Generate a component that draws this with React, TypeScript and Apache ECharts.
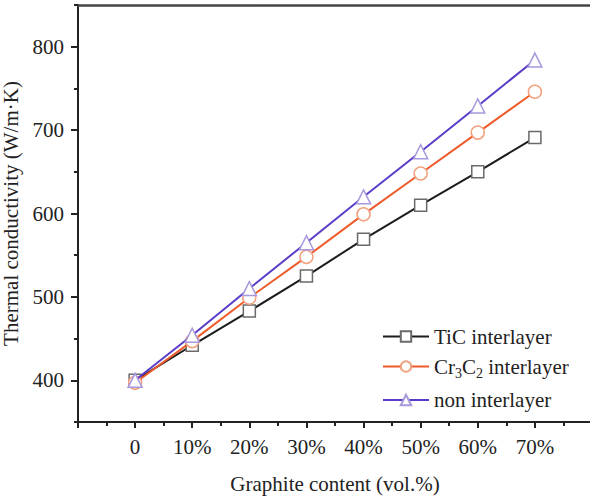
import React, { useEffect, useRef } from "react";
import * as echarts from "echarts";

const contents = [0, 10, 20, 30, 40, 50, 60, 70];
const ticValues = [400, 442, 483, 525, 569, 610, 650, 691];
const crValues = [397, 447, 499, 548, 599, 648, 697, 746];
const nonValues = [400, 454, 510, 565, 620, 674, 729, 784];
const seriesNames = ["TiC interlayer", "Cr3C2 interlayer", "non interlayer"];
const yMajor = [400, 500, 600, 700, 800];
const yMinor = [350, 450, 550, 650, 750, 850];
const xMajor = [-10, 0, 10, 20, 30, 40, 50, 60, 70, 80];
const xMinor = [-5, 5, 15, 25, 35, 45, 55, 65, 75];

const FONT = "'Liberation Serif', 'DejaVu Serif', serif";
const TXT = "#222";
const FS = 21;

export default function App() {
  const ref = useRef<HTMLDivElement>(null);
  useEffect(() => {
    const chart = echarts.init(ref.current!, null, { renderer: "svg" });
    const mk = (vals: number[]) => contents.map((c, i) => [c, vals[i]]);
    const axisLine = { show: true, onZero: false, lineStyle: { color: "#222", width: 2 } };
    chart.setOption({
      animation: false,
      textStyle: { fontFamily: FONT },
      grid: { left: 78, top: 5, right: -2, bottom: 79, containLabel: false, outerBoundsMode: "none" },
      legend: {
        orient: "vertical",
        left: 377,
        top: 321,
        itemWidth: 46,
        itemHeight: 13,
        itemGap: 9,
        data: seriesNames,
        textStyle: {
          fontFamily: FONT,
          fontSize: FS,
          color: TXT,
          rich: {
            n: { fontFamily: FONT, fontSize: FS, color: TXT },
            sub: { fontFamily: FONT, fontSize: 14, color: TXT, padding: [14, 0, 0, 0] },
          },
        },
        formatter: (name: string) =>
          name === "Cr3C2 interlayer" ? "{n|Cr}{sub|3}{n|C}{sub|2}{n| interlayer}" : name,
      },
      xAxis: [
        {
          type: "value",
          min: -10,
          max: 80,
          interval: 5,
          position: "bottom",
          name: "Graphite content (vol.%)",
          nameLocation: "middle",
          nameGap: 51,
          nameTextStyle: { fontFamily: FONT, fontSize: FS, color: TXT },
          axisLine,
          splitLine: { show: false },
          axisTick: { show: true, customValues: xMajor, length: 6, lineStyle: { color: "#222", width: 2 } },
          axisLabel: {
            customValues: contents,
            formatter: (v: number) => (v === 0 ? "0" : v + "%"),
            fontFamily: FONT,
            fontSize: FS,
            color: TXT,
            margin: 14,
          },
        },
        {
          type: "value",
          min: -10,
          max: 80,
          interval: 5,
          position: "bottom",
          axisLine: { show: false, onZero: false },
          splitLine: { show: false },
          axisTick: { show: true, customValues: xMinor, length: 4, lineStyle: { color: "#222", width: 2 } },
          axisLabel: { show: false },
        },
        {
          type: "value",
          min: -10,
          max: 80,
          position: "top",
          axisLine: { show: true, onZero: false, lineStyle: { color: "#444", width: 2.5 } },
          splitLine: { show: false },
          axisTick: { show: false },
          axisLabel: { show: false },
        },
      ],
      yAxis: [
        {
          type: "value",
          min: 350,
          max: 850,
          interval: 50,
          position: "left",
          name: "Thermal conductivity (W/m·K)",
          nameLocation: "middle",
          nameGap: 47,
          nameTextStyle: { fontFamily: FONT, fontSize: FS, color: TXT },
          axisLine,
          splitLine: { show: false },
          axisTick: { show: true, customValues: yMajor, length: 7, lineStyle: { color: "#222", width: 2 } },
          axisLabel: { customValues: yMajor, fontFamily: FONT, fontSize: FS, color: TXT, margin: 14 },
        },
        {
          type: "value",
          min: 350,
          max: 850,
          interval: 50,
          position: "left",
          axisLine: { show: false, onZero: false },
          splitLine: { show: false },
          axisTick: { show: true, customValues: yMinor, length: 4, lineStyle: { color: "#222", width: 2 } },
          axisLabel: { show: false },
        },
      ],
      series: [
        {
          name: seriesNames[0],
          type: "line",
          data: mk(ticValues),
          symbol: "rect",
          symbolSize: 12,
          lineStyle: { color: "#1c1c1c", width: 2 },
          itemStyle: { color: "#ffffff", borderColor: "#6a6a6a", borderWidth: 1.5 },
          z: 3,
        },
        {
          name: seriesNames[1],
          type: "line",
          data: mk(crValues),
          symbol: "circle",
          symbolSize: 13,
          lineStyle: { color: "#ee5a2a", width: 2 },
          itemStyle: { color: "#ffffff", borderColor: "#f2a07e", borderWidth: 1.5 },
          z: 4,
        },
        {
          name: seriesNames[2],
          type: "line",
          data: mk(nonValues),
          symbol: "triangle",
          symbolSize: 14,
          lineStyle: { color: "#5a3cc8", width: 2 },
          itemStyle: { color: "#ffffff", borderColor: "#a898dc", borderWidth: 1.5 },
          z: 5,
        },
      ],
    });
    return () => chart.dispose();
  }, []);
  return <div ref={ref} style={{ width: 590, height: 501, position: "absolute", left: 0, top: 0, background: "#fff" }} />;
}
